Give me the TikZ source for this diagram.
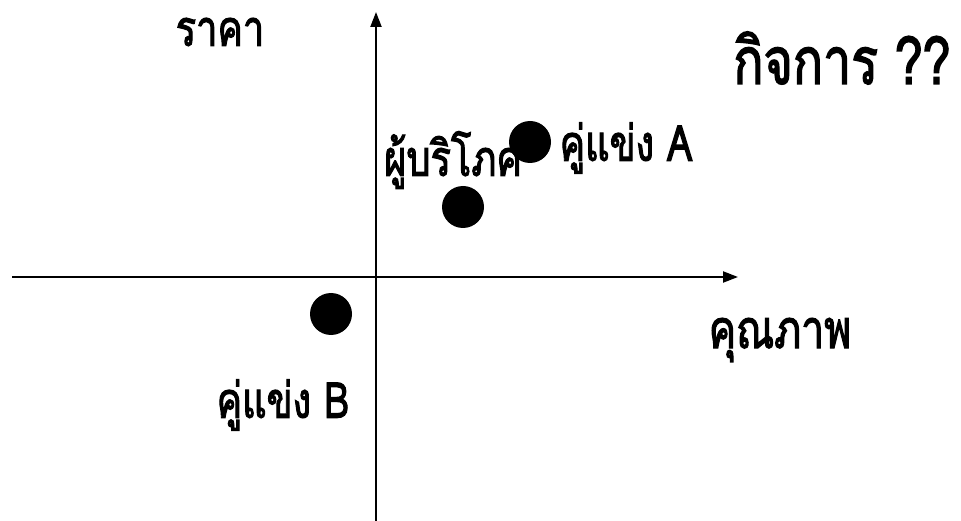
\documentclass[tikz,border=0pt]{standalone}
\usepackage{fontspec}
\usepackage{graphicx}
\newfontfamily\thaifont[Script=Thai,FakeBold=2.5]{Loma}
\newcommand{\tall}[1]{\scalebox{1}[1.3]{#1}}
\usetikzlibrary{arrows.meta}
\begin{document}
\begin{tikzpicture}[x=1pt,y=-1pt,
  axis/.style={line width=2.2pt,-{Triangle[length=15pt,width=11pt]}},
  dot/.style={circle,fill=black,minimum size=42pt,inner sep=0pt},
  lbl/.style={font=\thaifont\fontsize{38}{42}\selectfont,inner sep=0pt}]
\useasboundingbox (0,0) rectangle (961,521);
\coordinate (xs) at (12,277);
\coordinate (xe) at (738,277);
\coordinate (ys) at (376,521);
\coordinate (ye) at (376,12);
\draw[axis] (xs) -- (xe);
\draw[axis] (ys) -- (ye);
\node[dot] (cons) at (463,207) {};
\node[dot] (ca) at (530,142) {};
\node[dot] (cb) at (331,314) {};
\node[lbl] (price) at (220,32) {\tall{ราคา}};
\node[lbl,font=\thaifont\fontsize{50}{54}\selectfont] (biz) at (842,58) {\tall{กิจการ ??}};
\node[lbl] (consl) at (453,160) {\tall{ผู้บริโภค}};
\node[lbl] (cal) at (626,148) {\tall{คู่แข่ง A}};
\node[lbl] (cbl) at (283,405) {\tall{คู่แข่ง B}};
\node[lbl,font=\thaifont\fontsize{41}{45}\selectfont] (qual) at (780,340) {\tall{คุณภาพ}};
\end{tikzpicture}
\end{document}
